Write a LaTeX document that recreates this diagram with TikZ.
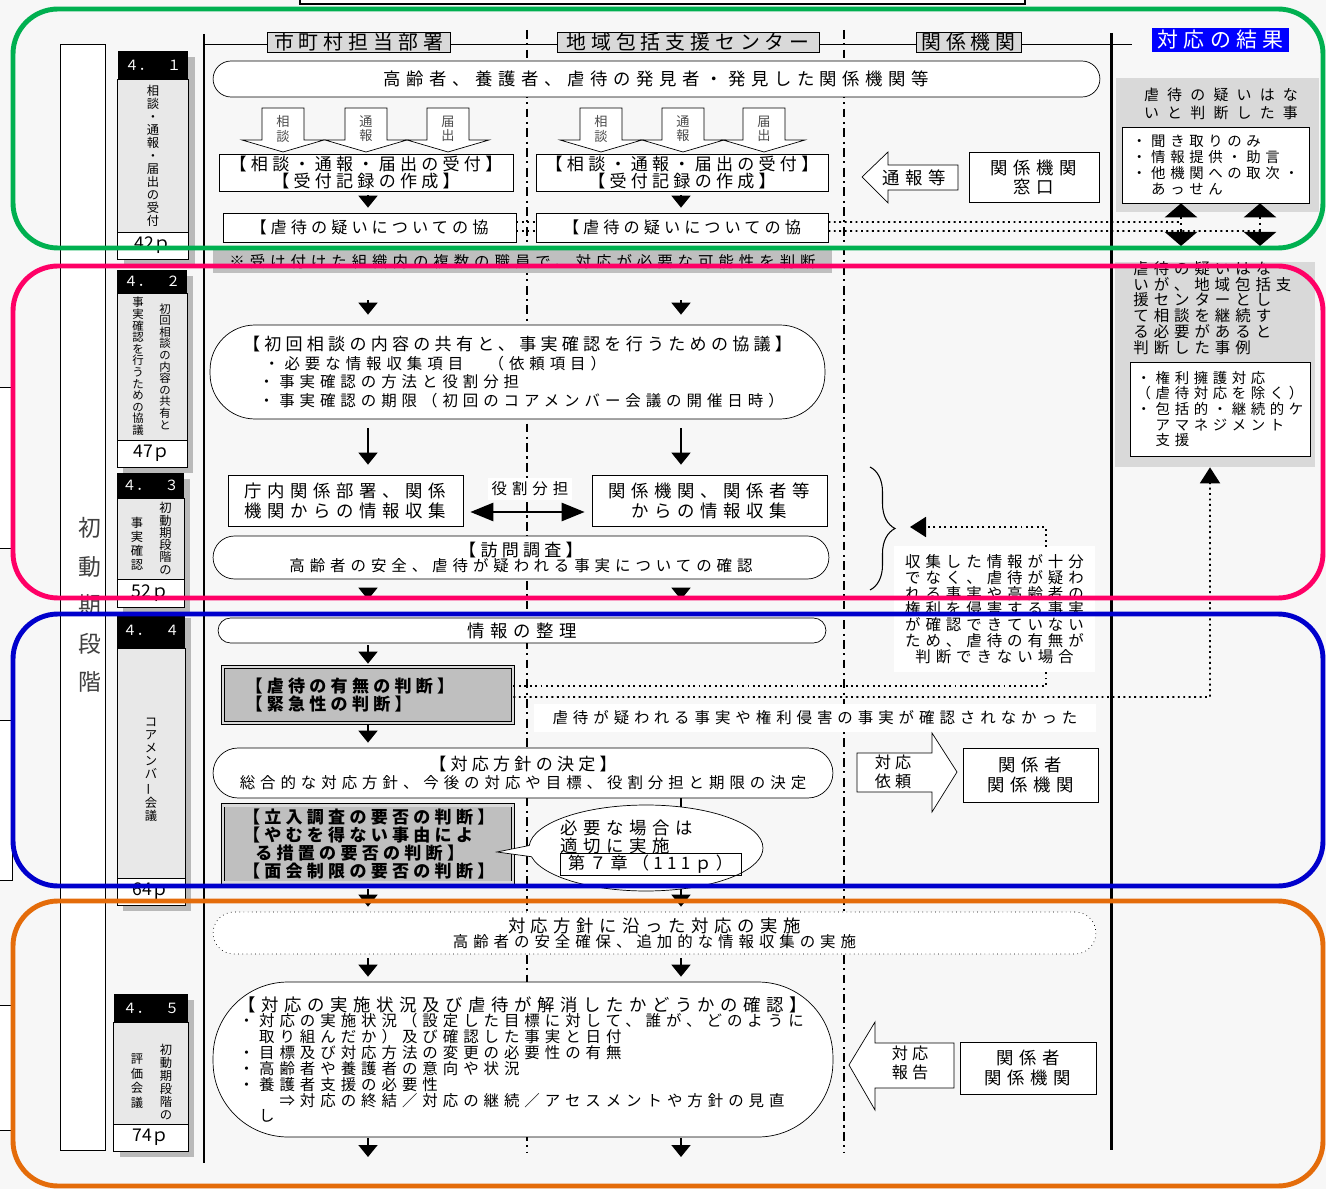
\documentclass[tikz,border=0pt]{standalone}
\usepackage{fontspec}
\setmainfont{Noto Sans CJK JP}
\newfontfamily\jbody[LetterSpace=32]{Noto Sans CJK JP}
\newfontfamily\jhead[LetterSpace=25]{Noto Sans CJK JP}
\newfontfamily\jwide[LetterSpace=55]{Noto Sans CJK JP}
\usetikzlibrary{positioning,arrows.meta,shapes.callouts,decorations.pathreplacing}
\definecolor{grn}{RGB}{0,176,80}
\definecolor{pnk}{RGB}{255,0,102}
\definecolor{blu}{RGB}{0,0,204}
\definecolor{org}{RGB}{228,108,10}
\definecolor{resblue}{RGB}{0,0,255}
\begin{document}
\begin{tikzpicture}[x=0.02cm, y=-0.02cm,
  lane/.style={line width=1.4pt, dash pattern=on 5pt off 2.5pt on 1.2pt off 2.5pt},
  box/.style={draw, fill=white, inner sep=1pt, align=center},
  pill/.style={draw, fill=white, rounded corners=#1, inner sep=1pt},
  judge/.style={draw, double=gray!30, double distance=1.6pt, fill=gray!50, align=left, inner sep=2pt},
  hd/.style={draw, fill=gray!30, inner sep=0pt, minimum height=0.4cm, font=\jhead\fontsize{11.3}{12}\selectfont},
  sbhead/.style={fill=black, text=white, minimum width=1.4cm, inner sep=0pt, outer sep=0pt, font=\fontsize{8}{8}\selectfont},
  sbbody/.style={draw, fill=gray!18, minimum width=1.4cm, inner sep=0pt, outer sep=0pt},
  sbfoot/.style={draw, fill=white, minimum width=1.4cm, inner sep=0pt, outer sep=0pt, font=\fontsize{10}{10}\selectfont},
  vtxt/.style={align=center, inner sep=0pt, font=\fontsize{7}{7.4}\selectfont},
  tri/.style={line width=1pt, -{Triangle[width=0.38cm,length=0.24cm]}},
  dotline/.style={dotted, line width=1.1pt},
  dblarr/.style={dotted, line width=1.5pt, {Triangle[width=0.64cm,length=0.28cm]}-{Triangle[width=0.64cm,length=0.28cm]}},
  region/.style={rounded corners=0.9cm, line width=2.8pt}]
\useasboundingbox (0,0) rectangle (1326,1189);
\fill[gray!6] (0,0) rectangle (1326,1189);
\draw[fill=white, line width=0.8pt] (300,-20) rectangle (1025,4);
\draw[fill=white] (-5,387) rectangle (12,548);
\draw[fill=white] (-5,720) rectangle (12,880);
\draw[fill=white] (-5,1005) rectangle (12,1130);
\draw[fill=white] (60,44) rectangle (105,1150);
\node[align=center, inner sep=0pt, text=black!75, font=\fontsize{13}{22}\selectfont] (phase) at (90,605) {初\\動\\期\\段\\階};
\draw[line width=1.7pt] (204,34) -- (204,1163);
\draw[line width=1.7pt] (1111,33) -- (1111,1150);
\draw (204,44) -- (1132,44);
\draw[lane] (527,30) -- (527,1152);
\draw[lane] (844,30) -- (844,1152);
\coordinate (colL) at (368,0);
\coordinate (colR) at (681,0);

\node[hd, minimum width=3.66cm] (hdA) at (358.5,42) {市町村担当部署};
\node[hd, minimum width=5.24cm] (hdB) at (688,42) {地域包括支援センター};
\node[hd, minimum width=2.1cm] (hdC) at (968.5,42) {関係機関};
\node[fill=resblue, text=white, minimum width=2.74cm, minimum height=0.48cm, inner sep=0pt, font=\jhead\fontsize{11.9}{12}\selectfont] (hdD) at (1220.5,40) {対応の結果};

% sidebars
\fill[gray!55] (124,57) rectangle (195,265);
\fill[gray!55] (123,276) rectangle (193,473);
\fill[gray!55] (123,479) rectangle (190,613);
\fill[gray!55] (123,618) rectangle (191,911);
\fill[gray!55] (120,1000) rectangle (194,1157);
\node[sbhead, minimum width=1.42cm, minimum height=0.56cm] (h41) at (153,65) {４．　１};
\node[sbbody, minimum width=1.42cm, minimum height=3.06cm, below=0pt of h41] (b41) {};
\node[sbfoot, minimum width=1.42cm, minimum height=0.54cm, below=0pt of b41] (f41) {42ｐ};
\node[vtxt] (v41) at (b41) {相\\談\\・\\通\\報\\・\\届\\出\\の\\受\\付};
\node[sbhead, minimum height=0.46cm] (h42) at (152,281.5) {４．　２};
\node[sbbody, minimum height=2.94cm, below=0pt of h42] (b42) {};
\node[sbfoot, minimum height=0.54cm, below=0pt of b42] (f42) {47ｐ};
\node[vtxt, font=\fontsize{6.5}{6.6}\selectfont] (v42a) at ([xshift=0.26cm]b42.center) {初\\回\\相\\談\\の\\内\\容\\の\\共\\有\\と};
\node[vtxt, font=\fontsize{6.5}{6.6}\selectfont] (v42b) at ([xshift=-0.28cm]b42.center) {事\\実\\確\\認\\を\\行\\う\\た\\め\\の\\協\\議};
\node[sbhead, minimum width=1.34cm, minimum height=0.5cm] (h43) at (150.5,485.5) {４．　３};
\node[sbbody, minimum width=1.34cm, minimum height=1.62cm, below=0pt of h43] (b43) {};
\node[sbfoot, minimum width=1.34cm, minimum height=0.56cm, below=0pt of b43] (f43) {52ｐ};
\node[vtxt, font=\fontsize{7}{7}\selectfont] (v43a) at ([xshift=0.3cm]b43.center) {初\\動\\期\\段\\階\\の};
\node[vtxt, font=\fontsize{7}{8}\selectfont] (v43b) at ([xshift=-0.27cm,yshift=-0.1cm]b43.center) {事\\実\\確\\認};
\node[sbhead, minimum width=1.36cm, minimum height=0.72cm] (h44) at (151,630) {４．　４};
\node[sbbody, minimum width=1.36cm, minimum height=4.6cm, below=0pt of h44] (b44) {};
\node[sbfoot, minimum width=1.36cm, minimum height=0.54cm, below=0pt of b44] (f44) {64ｐ};
\node[vtxt] (v44) at ([yshift=-0.14cm]b44.center) {コ\\ア\\メ\\ン\\バ\\\rotatebox[origin=c]{90}{ー}\\会\\議};
\node[sbhead, minimum width=1.5cm, minimum height=0.56cm] (h45) at (151,1008) {４．　５};
\node[sbbody, minimum width=1.5cm, minimum height=2.04cm, below=0pt of h45] (b45) {};
\node[sbfoot, minimum width=1.5cm, minimum height=0.54cm, below=0pt of b45] (f45) {74ｐ};
\node[vtxt, font=\fontsize{7}{7.5}\selectfont] (v45a) at ([xshift=0.3cm,yshift=-0.18cm]b45.center) {初\\動\\期\\段\\階\\の};
\node[vtxt, font=\fontsize{7}{8.2}\selectfont] (v45b) at ([xshift=-0.28cm,yshift=-0.16cm]b45.center) {評\\価\\会\\議};

% row 1
\node[pill=0.36cm, minimum width=17.74cm, minimum height=0.72cm, font=\jbody\fontsize{9.9}{10}\selectfont] (find) at (656.5,79) {高齢者、養護者、虐待の発見者・発見した関係機関等};
\foreach \x/\a/\b in {283/相/談, 366/通/報, 448/届/出, 601/相/談, 683/通/報, 764/届/出} {
  \draw[fill=white] (\x-21,108) -- (\x+21,108) -- (\x+21,140) -- (\x+41,140) -- (\x,152) -- (\x-41,140) -- (\x-21,140) -- cycle;
  \node[align=center, inner sep=0pt, text=black!70, font=\fontsize{7.5}{8}\selectfont] (bl\x) at (\x,129) {\a\\\b};
}
\node[box, minimum width=5.88cm, minimum height=0.74cm, font=\jhead\fontsize{9.7}{8.8}\selectfont] (recL) at (366,172.5) {【相談・通報・届出の受付】\\【受付記録の作成】};
\node[box, minimum width=5.84cm, minimum height=0.74cm, font=\jhead\fontsize{9.7}{8.8}\selectfont] (recR) at (682,172.5) {【相談・通報・届出の受付】\\【受付記録の作成】};
\node[box, minimum width=5.86cm, minimum height=0.58cm, font=\jhead\fontsize{9.2}{10}\selectfont] (kyoL) at (369.5,227.5) {【虐待の疑いについての協};
\node[box, minimum width=5.84cm, minimum height=0.58cm, font=\jhead\fontsize{9.2}{10}\selectfont] (kyoR) at (682,227.5) {【虐待の疑いについての協};
\draw[tri, shorten <=0.08cm, shorten >=0.1cm] (recL.south -| colL) -- (kyoL.north -| colL);
\draw[tri, shorten <=0.08cm, shorten >=0.1cm] (recR.south -| colR) -- (kyoR.north -| colR);
\draw[fill=white] (862,177) -- (888,152) -- (888,165) -- (958,165) -- (958,190) -- (888,190) -- (888,203) -- cycle;
\node[inner sep=0pt, font=\jbody\fontsize{9.9}{10}\selectfont] (tsuho) at (914,178) {通報等};
\node[box, minimum width=2.6cm, minimum height=1cm, font=\jbody\fontsize{9.9}{10.8}\selectfont] (mado) at (1034,177) {関係機関\\窓口};
\node[fill=gray!30, minimum width=4.06cm, minimum height=2.68cm, inner sep=0pt] (res1) at (1217.5,145) {};
\node[align=left, inner sep=0pt, font=\jwide\fontsize{8.5}{10.2}\selectfont] (res1t) at (1221,104) {虐待の疑いはな\\いと判断した事};
\node[box, align=left, minimum width=3.74cm, minimum height=1.52cm, font=\jbody\fontsize{8.2}{9}\selectfont] (res1b) at (1215.5,165) {・聞き取りのみ\\・情報提供・助言\\・他機関への取次・\\　あっせん};
\coordinate (u1) at (1181,222);
\coordinate (u2) at (1260,231);
\coordinate (v1) at (1181,246);
\coordinate (v2) at (1260,246);
\draw[dotline] ([yshift=0.11cm]kyoL.east) -- ([yshift=0.11cm]kyoR.west);
\draw[dotline] ([yshift=-0.07cm]kyoL.east) -- ([yshift=-0.07cm]kyoR.west);
\draw[dotline] ([yshift=0.11cm]kyoR.east) -- (u1);
\draw[dotline] ([yshift=-0.07cm]kyoR.east) -- (u2);
\draw[dblarr] (res1b.south -| u1) -- (v1);
\draw[dblarr] (res1b.south -| u2) -- (v2);

% row 2
\node[fill=gray!50, minimum width=12.38cm, minimum height=0.46cm, inner sep=0pt, font=\jbody\fontsize{8.8}{9}\selectfont] (band) at (522.5,261.5) {※受け付けた組織内の複数の職員で、対応が必要な可能性を判断};
\node[pill=0.9cm, minimum width=12.3cm, minimum height=1.88cm, align=left, font=\jbody\fontsize{8.8}{10.7}\selectfont] (conf) at (517.5,372) {{\jhead\fontsize{9.7}{10.7}\selectfont 【初回相談の内容の共有と、事実確認を行うための協議】}\\\hspace{12pt}・必要な情報収集項目　（依頼項目）\\\hspace{9pt}・事実確認の方法と役割分担\\\hspace{9pt}・事実確認の期限（初回のコアメンバー会議の開催日時）};
\draw[tri, shorten <=0.54cm, shorten >=0.2cm] (band.south -| colL) -- (conf.north -| colL);
\draw[tri, shorten <=0.54cm, shorten >=0.2cm] (band.south -| colR) -- (conf.north -| colR);
\node[box, minimum width=4.7cm, minimum height=1.02cm, font=\jbody\fontsize{9.9}{11.3}\selectfont] (gathL) at (345.5,500.5) {庁内関係部署、関係\\機関からの情報収集};
\node[box, minimum width=4.7cm, minimum height=1.02cm, font=\jbody\fontsize{9.9}{11.3}\selectfont] (gathR) at (709.5,500.5) {関係機関、関係者等\\からの情報収集};
\draw[line width=0.8pt, -{Triangle[width=0.38cm,length=0.24cm]}, shorten <=0.18cm, shorten >=0.2cm] (conf.south -| colL) -- (gathL.north -| colL);
\draw[line width=0.8pt, -{Triangle[width=0.38cm,length=0.24cm]}, shorten <=0.18cm, shorten >=0.2cm] (conf.south -| colR) -- (gathR.north -| colR);
\node[fill=white, inner sep=2pt, font=\jbody\fontsize{8.8}{9}\selectfont] (role) at (530,489) {役割分担};
\draw[line width=1.5pt, {Triangle[width=0.36cm,length=0.46cm]}-{Triangle[width=0.36cm,length=0.46cm]}, shorten <=0.14cm, shorten >=0.14cm] ([yshift=-0.23cm]gathL.east) -- ([yshift=-0.23cm]gathR.west);
\node[pill=0.43cm, minimum width=12.32cm, minimum height=0.86cm, align=center, font=\jbody\fontsize{8.8}{8.5}\selectfont] (visit) at (521,557.5) {{\jhead\fontsize{9.7}{8.5}\selectfont 【訪問調査】}\\高齢者の安全、虐待が疑われる事実についての確認};
\draw[decorate, decoration={brace, amplitude=0.5cm}, line width=0.6pt] (870,467) -- (870,590);
\node[fill=white, minimum width=4.02cm, minimum height=2.52cm, inner sep=0pt, align=center, font=\jbody\fontsize{8.8}{9}\selectfont] (lack) at (994.5,609) {収集した情報が十分\\でなく、虐待が疑わ\\れる事実や高齢者の\\権利を侵害する事実\\が確認できていない\\ため、虐待の有無が\\判断できない場合};
\coordinate (w1) at (1046,547);
\coordinate (bt) at (910,527);
\draw[dotline, -{Triangle[width=0.4cm,length=0.32cm]}] (w1) |- (bt);
\node[fill=gray!30, minimum width=4cm, minimum height=4.1cm, inner sep=0pt] (res2) at (1215,364.5) {};
\node[anchor=west, align=left, inner sep=0pt, font=\jbody\fontsize{8.8}{9}\selectfont] (res2t) at (1133,308) {虐待の疑いはな\\いが、地域包括支\\援センターとし\\て相談を継続す\\る必要があると\\判断した事例};
\node[box, align=left, minimum width=3.6cm, minimum height=1.88cm, font=\jbody\fontsize{8.2}{8.9}\selectfont] (res2b) at (1220,409) {・権利擁護対応\\（虐待対応を除く）\\・包括的・継続的ケ\\　アマネジメント\\　支援};

% row 3
\node[pill=0.25cm, minimum width=12.16cm, minimum height=0.5cm, font=\jbody\fontsize{9.9}{10}\selectfont] (seiri) at (522,630.5) {情報の整理};
\draw[tri, shorten <=0.2cm, shorten >=0.36cm] (visit.south -| colL) -- (seiri.north -| colL);
\draw[tri, shorten <=0.2cm, shorten >=0.36cm] (visit.south -| colR) -- (seiri.north -| colR);
\node[judge, minimum width=5.8cm, minimum height=1.12cm, text width=4.9cm, font=\jhead\bfseries\fontsize{9.7}{10.7}\selectfont] (judge1) at (368,695) {【虐待の有無の判断】\\【緊急性の判断】};
\draw[tri, shorten <=0.04cm, shorten >=0.06cm] (seiri.south -| colL) -- (judge1.north -| colL);
\coordinate (w2) at (1210,697);
\draw[dotline] ([yshift=0.18cm]judge1.east) -| (lack.south -| w1);
\draw[dotline, -{Triangle[width=0.4cm,length=0.32cm]}] ([yshift=-0.04cm]judge1.east) -- (w2) -- (w2 |- res2.south);
\node[fill=white, minimum width=11.24cm, minimum height=0.56cm, inner sep=0pt, font=\jbody\fontsize{8.8}{9}\selectfont] (shinsa) at (815,718) {虐待が疑われる事実や権利侵害の事実が確認されなかった};
\node[pill=0.5cm, minimum width=12.4cm, minimum height=1cm, align=center, font=\jbody\fontsize{8.8}{10.2}\selectfont] (hoshin) at (523,773) {{\jhead\fontsize{9.7}{10.2}\selectfont 【対応方針の決定】}\\総合的な対応方針、今後の対応や目標、役割分担と期限の決定};
\draw[tri, shorten <=0.04cm, shorten >=0.1cm] (judge1.south -| colL) -- (hoshin.north -| colL);
\draw[fill=white] (857,753) -- (932,753) -- (932,733) -- (957,772) -- (932,812) -- (932,792) -- (857,792) -- cycle;
\node[inner sep=0pt, align=center, font=\jhead\fontsize{9.2}{10.5}\selectfont] (irai) at (893,772) {対応\\依頼};
\node[box, minimum width=2.7cm, minimum height=1.08cm, font=\jbody\fontsize{9.9}{11}\selectfont] (kankei1) at (1030.5,775) {関係者\\関係機関};
\node[judge, minimum width=5.8cm, minimum height=1.52cm, text width=5cm, font=\jhead\bfseries\fontsize{9.7}{9}\selectfont] (judge2) at (368,844) {【立入調査の要否の判断】\\【やむを得ない事由によ\\\hspace{7pt}る措置の要否の判断】\\【面会制限の要否の判断】};

% row 4
\node[pill=0.42cm, dotted, minimum width=17.66cm, minimum height=0.84cm, align=center, font=\jbody\fontsize{8.8}{8.5}\selectfont] (jissi) at (654.5,933) {{\fontsize{9.9}{8.5}\selectfont 対応方針に沿った対応の実施}\\高齢者の安全確保、追加的な情報収集の実施};
\draw[tri, shorten <=0.12cm, shorten >=0.1cm] (judge2.south -| colL) -- (jissi.north -| colL);
\draw[tri, shorten >=0.1cm] (hoshin.south -| colR) -- (jissi.north -| colR);
\node[ellipse callout, draw, fill=white, minimum width=4.68cm, minimum height=1.72cm, callout absolute pointer={(497,852)}] (co) at (646,848) {};
\node[anchor=west, align=left, inner sep=0pt, font=\jbody\fontsize{9.9}{9}\selectfont] (cot) at (560,837) {必要な場合は\\適切に実施};
\node[draw, inner sep=1pt, minimum width=3.62cm, minimum height=0.38cm, font=\jhead\fontsize{9.7}{9}\selectfont] (ch7) at (650.5,864) {第７章（111ｐ）};
\node[pill=1.5cm, minimum width=12.4cm, minimum height=3.1cm, align=left, font=\jbody\fontsize{8.8}{9}\selectfont] (kakunin) at (523,1059.5) {{\fontsize{9.9}{9}\selectfont 【対応の実施状況及び虐待が解消したかどうかの確認】}\\・対応の実施状況（設定した目標に対して、誰が、どのように\\　取り組んだか）及び確認した事実と日付\\・目標及び対応方法の変更の必要性の有無\\・高齢者や養護者の意向や状況\\・養護者支援の必要性\\　　⇒対応の終結／対応の継続／アセスメントや方針の見直\\　し};
\draw[tri, shorten <=0.08cm, shorten >=0.1cm] (jissi.south -| colL) -- (kakunin.north -| colL);
\draw[tri, shorten <=0.08cm, shorten >=0.1cm] (jissi.south -| colR) -- (kakunin.north -| colR);
\coordinate (endL) at (368,1157);
\coordinate (endR) at (681,1157);
\draw[tri, shorten <=0.02cm] (kakunin.south -| colL) -- (endL);
\draw[tri, shorten <=0.02cm] (kakunin.south -| colR) -- (endR);
\draw[fill=white] (849,1065) -- (875,1022) -- (875,1043) -- (954,1043) -- (954,1088) -- (875,1088) -- (875,1110) -- cycle;
\node[inner sep=0pt, align=center, font=\jhead\fontsize{9.2}{11}\selectfont] (hokoku) at (910,1063) {対応\\報告};
\node[box, minimum width=2.72cm, minimum height=1.04cm, font=\jbody\fontsize{9.9}{11}\selectfont] (kankei2) at (1028,1068) {関係者\\関係機関};

% phases
\draw[region, grn] (13,9) rectangle (1323,248);
\draw[region, pnk] (13,266) rectangle (1323,598);
\draw[region, blu] (13,614) rectangle (1323,886);
\draw[region, org] (13,901) rectangle (1323,1186);
\end{tikzpicture}
\end{document}
